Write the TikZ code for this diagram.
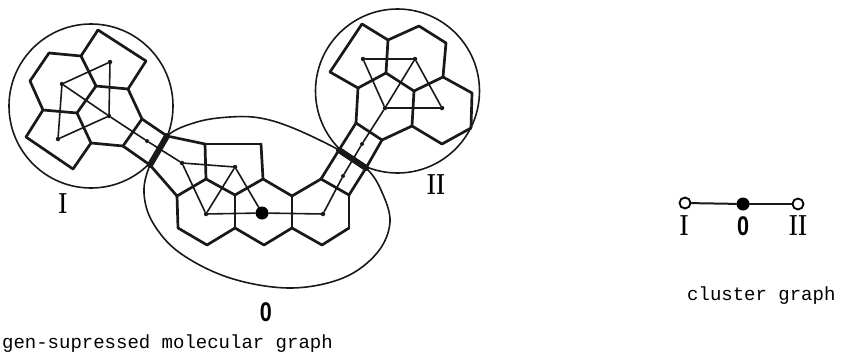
\documentclass[tikz,border=0pt]{standalone}
\usepackage{graphicx}
\usepackage{fontspec}
\newfontfamily\lblmono{Liberation Mono}
\newfontfamily\lblsans{Liberation Sans}
\tikzset{
  bond/.style={line width=2.7pt,line join=round,line cap=round,black!90},
  heavy/.style={line width=6pt,line cap=round,black!90},
  link/.style={line width=1.6pt,line cap=round,black!90},
  hull/.style={line width=1.6pt,black!90},
  atomdot/.style={circle,fill=black!90,inner sep=0pt,minimum size=4.5pt},
  smalldot/.style={circle,fill=black!90,inner sep=0pt,minimum size=4pt},
  bigdot/.style={circle,fill=black,inner sep=0pt,minimum size=13pt},
  opendot/.style={circle,draw=black,line width=1.8pt,fill=white,inner sep=0pt,minimum size=11pt},
  captext/.style={font=\lblmono\fontsize{19}{19}\selectfont,inner sep=0pt},
  romantext/.style={inner sep=0pt,font=\bfseries\fontsize{29}{29}\selectfont},
  zerotext/.style={inner sep=0pt,font=\lblsans\bfseries\fontsize{27}{27}\selectfont}
}
\begin{document}
\begin{tikzpicture}[x=1pt,y=-1pt]
\useasboundingbox (0,0) rectangle (844,351);
% molecular vertices
\foreach \n/\x/\y in {
 a1/98/30,a2/146/61,a3/128/89,a4/96/86,a5/81/56,a6/49/53,a7/30/81,a8/43/110,
 a9/77/113,a10/91/143,a11/123/146,a12/142/119,a13/26/137,a14/73/169,a15/167/136,a16/150/165,
 b1/205/144,b2/261/144,b3/206/179,b4/263/179,b5/177/196,b6/235/195,b7/292/196,b8/321/179,
 b9/349/195,b10/178/228,b11/207/245,b12/235/228,b13/264/245,b14/292/228,b15/322/245,b16/349/228,
 b17/339/150,b18/366/168,b19/356/123,b20/382/140,
 c1/358/88,c2/330/72,c3/362/24,c4/388/40,c5/419/26,c6/446/43,c7/443/77,c8/414/91,c9/386/73,
 c10/412/126,c11/442/144,c12/471/128,c13/472/93}
 {\coordinate (\n) at (\x,\y);}
% cluster hulls
\draw[hull] (91,106) circle (82pt);
\draw[hull] (397.5,91) circle (82pt);
\coordinate (h1) at (150,165);\coordinate (h2) at (167,136);\coordinate (h3) at (197,122);
\coordinate (h4) at (230,117);\coordinate (h5) at (260,118);\coordinate (h6) at (293,128);
\coordinate (h7) at (339,150);\coordinate (h8) at (366,168);\coordinate (h9) at (381,190);
\coordinate (h10) at (390,222);\coordinate (h11) at (377,253);\coordinate (h12) at (343,278);
\coordinate (h13) at (290,288);\coordinate (h14) at (230,278);\coordinate (h15) at (180,253);
\coordinate (h16) at (153,223);\coordinate (h17) at (144,193);
\draw[hull] plot[smooth cycle,tension=0.6] coordinates {(h1)(h2)(h3)(h4)(h5)(h6)(h7)(h8)(h9)(h10)(h11)(h12)(h13)(h14)(h15)(h16)(h17)};
% bonds
\foreach \p/\q in {a1/a2,a2/a3,a3/a4,a4/a5,a5/a1,a5/a6,a6/a7,a7/a8,a8/a9,a9/a4,a9/a10,a10/a11,a11/a12,a12/a3,
 a8/a13,a13/a14,a14/a10,a12/a15,a11/a16,a15/b1,b1/b2,b2/b4,b1/b3,b3/b5,b3/b6,b6/b4,b5/a16,
 b5/b10,b6/b12,b10/b11,b11/b12,b12/b13,b13/b14,b14/b15,b15/b16,b16/b9,b14/b7,b4/b7,b7/b8,b8/b9,
 b8/b17,b17/b19,b19/b20,b20/b18,b18/b9,b19/c1,c1/c2,c2/c3,c3/c4,c4/c5,c5/c6,c6/c7,c7/c8,c8/c9,
 c9/c4,c9/c1,c8/c10,c10/b20,c10/c11,c11/c12,c12/c13,c13/c7}
 {\draw[bond] (\p) -- (\q);}
\draw[heavy] (a15) -- (a16);
\draw[heavy] (b17) -- (b18);
% inter-ring links
\node[atomdot] (d1) at (62,84) {};
\node[atomdot] (d2) at (110,62) {};
\node[atomdot] (d3) at (109,116) {};
\node[atomdot] (d4) at (58,139) {};
\node[smalldot] (d5) at (147,141) {};
\node[atomdot] (d6) at (182,163) {};
\node[atomdot] (d7) at (235,167) {};
\node[atomdot] (d8) at (206,214) {};
\node[bigdot] (d9) at (262,213) {};
\node[atomdot] (d10) at (323,214) {};
\node[smalldot] (d11) at (343,176) {};
\node[smalldot] (d12) at (362,144) {};
\node[atomdot] (d13) at (385,108) {};
\node[atomdot] (d14) at (363,59) {};
\node[atomdot] (d15) at (415,59) {};
\node[atomdot] (d16) at (442,108) {};
\foreach \p/\q in {d1/d2,d2/d3,d3/d4,d4/d1,d1/d3,d3/d5,d5/d6,d6/d7,d6/d8,d7/d8,d7/d9,d8/d9,d9/d10,
 d10/d11,d11/d12,d12/d13,d13/d15,d13/d14,d14/d15,d15/d16,d13/d16}
 {\draw[link] (\p) -- (\q);}
% labels
\node[romantext] (lI) at (63,204) {\scalebox{0.7}[1]{I}};
\node[romantext] (lII) at (436,185) {\scalebox{0.7}[1]{II}};
\node[zerotext] (lO) at (266,312) {\scalebox{0.8}[1]{0}};
\node[captext,anchor=base east] (t1) at (333,348) {gen-supressed molecular graph};
% cluster graph
\node[opendot] (k1) at (685,203) {};
\node[bigdot] (k2) at (743,204) {};
\node[opendot] (k3) at (798,204) {};
\draw[link,line width=2pt] (k1) -- (k2);
\draw[link,line width=2pt] (k2) -- (k3);
\node[romantext] (kI) at (684,226) {\scalebox{0.7}[1]{I}};
\node[zerotext] (kO) at (743,226) {\scalebox{0.8}[1]{0}};
\node[romantext] (kII) at (798,226) {\scalebox{0.7}[1]{II}};
\node[captext,anchor=base west] (t2) at (687,300) {cluster graph};
\end{tikzpicture}
\end{document}
